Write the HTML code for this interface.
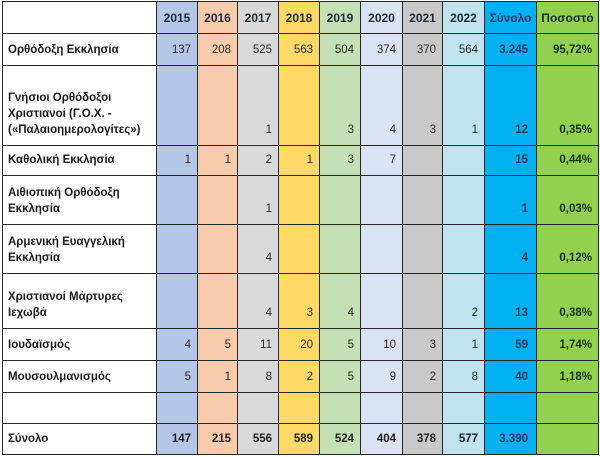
<!DOCTYPE html>
<html><head><meta charset="utf-8">
<style>
html,body{margin:0;padding:0;background:#fff;}
body{width:600px;height:457px;position:relative;overflow:hidden;font-family:"Liberation Sans","Noto Sans CJK SC",sans-serif;font-size:11.5px;color:#2a2a2a;}
.bg{position:absolute;top:1px;height:454px;}
.v{position:absolute;top:1px;height:454px;width:1px;background:#262626;}
.h{position:absolute;left:2px;width:597px;height:1px;background:#262626;}
.r{position:absolute;left:0;width:600px;}
.c{position:absolute;top:0;bottom:0;display:flex;align-items:flex-end;justify-content:flex-end;padding:0 6px 7px 0;box-sizing:border-box;line-height:16px;white-space:nowrap;}
.l{justify-content:flex-start;padding-left:5px;font-weight:bold;color:#1a1a1a;}
.hd{justify-content:center;padding-right:0;font-weight:bold;color:#1f2a3c;font-size:12px;}
.b{font-weight:bold;color:#222;}
.s{font-weight:bold;color:#1f3864;padding-right:8px;}
.p{font-weight:bold;color:#1b2e14;}
.c0{left:3px;width:153px}
.c1{left:157px;width:40px}
.c2{left:198px;width:39px}
.c3{left:238px;width:40px}
.c4{left:279px;width:40px}
.c5{left:320px;width:40px}
.c6{left:361px;width:41px}
.c7{left:403px;width:39px}
.c8{left:443px;width:41px}
.c9{left:485px;width:51px}
.c10{left:537px;width:61px}
</style></head><body>
<div class="bg" style="left:156px;width:41px;background:#b4c7e7"></div>
<div class="bg" style="left:197px;width:40px;background:#f8cbad"></div>
<div class="bg" style="left:237px;width:41px;background:#d9d9d9"></div>
<div class="bg" style="left:278px;width:41px;background:#ffd966"></div>
<div class="bg" style="left:319px;width:41px;background:#c5e0b4"></div>
<div class="bg" style="left:360px;width:42px;background:#dae3f3"></div>
<div class="bg" style="left:402px;width:40px;background:#c9c9c9"></div>
<div class="bg" style="left:442px;width:42px;background:#bfe3ef"></div>
<div class="bg" style="left:484px;width:52px;background:#00b0f0"></div>
<div class="bg" style="left:536px;width:62px;background:#92d050"></div>

<div class="r" style="top:2px;height:31px">
<div class="c hd c1">2015</div><div class="c hd c2">2016</div><div class="c hd c3">2017</div><div class="c hd c4">2018</div><div class="c hd c5">2019</div><div class="c hd c6">2020</div><div class="c hd c7">2021</div><div class="c hd c8">2022</div><div class="c hd c9" style="color:#1f3864">Σύνολο</div><div class="c hd c10" style="color:#1b2e14">Ποσοστό</div>
</div>
<div class="r" style="top:34px;height:31px">
<div class="c l c0">Ορθόδοξη Εκκλησία</div><div class="c c1">137</div><div class="c c2">208</div><div class="c c3">525</div><div class="c c4">563</div><div class="c c5">504</div><div class="c c6">374</div><div class="c c7">370</div><div class="c c8">564</div><div class="c s c9">3.245</div><div class="c p c10">95,72%</div>
</div>
<div class="r" style="top:66px;height:79px">
<div class="c l c0">Γνήσιοι Ορθόδοξοι<br>Χριστιανοί (Γ.Ο.Χ. -<br>(«Παλαιοημερολογίτες»)</div><div class="c c3">1</div><div class="c c5">3</div><div class="c c6">4</div><div class="c c7">3</div><div class="c c8">1</div><div class="c s c9">12</div><div class="c p c10">0,35%</div>
</div>
<div class="r" style="top:146px;height:29px">
<div class="c l c0">Καθολική Εκκλησία</div><div class="c c1">1</div><div class="c c2">1</div><div class="c c3">2</div><div class="c c4">1</div><div class="c c5">3</div><div class="c c6">7</div><div class="c s c9">15</div><div class="c p c10">0,44%</div>
</div>
<div class="r" style="top:176px;height:48px">
<div class="c l c0">Αιθιοπική Ορθόδοξη<br>Εκκλησία</div><div class="c c3">1</div><div class="c s c9">1</div><div class="c p c10">0,03%</div>
</div>
<div class="r" style="top:225px;height:48px">
<div class="c l c0">Αρμενική Ευαγγελική<br>Εκκλησία</div><div class="c c3">4</div><div class="c s c9">4</div><div class="c p c10">0,12%</div>
</div>
<div class="r" style="top:274px;height:54px">
<div class="c l c0">Χριστιανοί Μάρτυρες<br>Ιεχωβά</div><div class="c c3">4</div><div class="c c4">3</div><div class="c c5">4</div><div class="c c8">2</div><div class="c s c9">13</div><div class="c p c10">0,38%</div>
</div>
<div class="r" style="top:329px;height:31px">
<div class="c l c0">Ιουδαϊσμός</div><div class="c c1">4</div><div class="c c2">5</div><div class="c c3">11</div><div class="c c4">20</div><div class="c c5">5</div><div class="c c6">10</div><div class="c c7">3</div><div class="c c8">1</div><div class="c s c9">59</div><div class="c p c10">1,74%</div>
</div>
<div class="r" style="top:361px;height:31px">
<div class="c l c0">Μουσουλμανισμός</div><div class="c c1">5</div><div class="c c2">1</div><div class="c c3">8</div><div class="c c4">2</div><div class="c c5">5</div><div class="c c6">9</div><div class="c c7">2</div><div class="c c8">8</div><div class="c s c9">40</div><div class="c p c10">1,18%</div>
</div>
<div class="r" style="top:424px;height:30px">
<div class="c l c0">Σύνολο</div><div class="c b c1">147</div><div class="c b c2">215</div><div class="c b c3">556</div><div class="c b c4">589</div><div class="c b c5">524</div><div class="c b c6">404</div><div class="c b c7">378</div><div class="c b c8">577</div><div class="c s c9">3.390</div>
</div>

<div class="v" style="left:2px"></div>
<div class="v" style="left:156px"></div>
<div class="v" style="left:197px"></div>
<div class="v" style="left:237px"></div>
<div class="v" style="left:278px"></div>
<div class="v" style="left:319px"></div>
<div class="v" style="left:360px"></div>
<div class="v" style="left:402px"></div>
<div class="v" style="left:442px"></div>
<div class="v" style="left:484px"></div>
<div class="v" style="left:536px"></div>
<div class="v" style="left:598px"></div>
<div class="h" style="top:1px"></div>
<div class="h" style="top:33px"></div>
<div class="h" style="top:65px"></div>
<div class="h" style="top:145px"></div>
<div class="h" style="top:175px"></div>
<div class="h" style="top:224px"></div>
<div class="h" style="top:273px"></div>
<div class="h" style="top:328px"></div>
<div class="h" style="top:360px"></div>
<div class="h" style="top:392px"></div>
<div class="h" style="top:423px"></div>
<div class="h" style="top:454px"></div>
</body></html>
